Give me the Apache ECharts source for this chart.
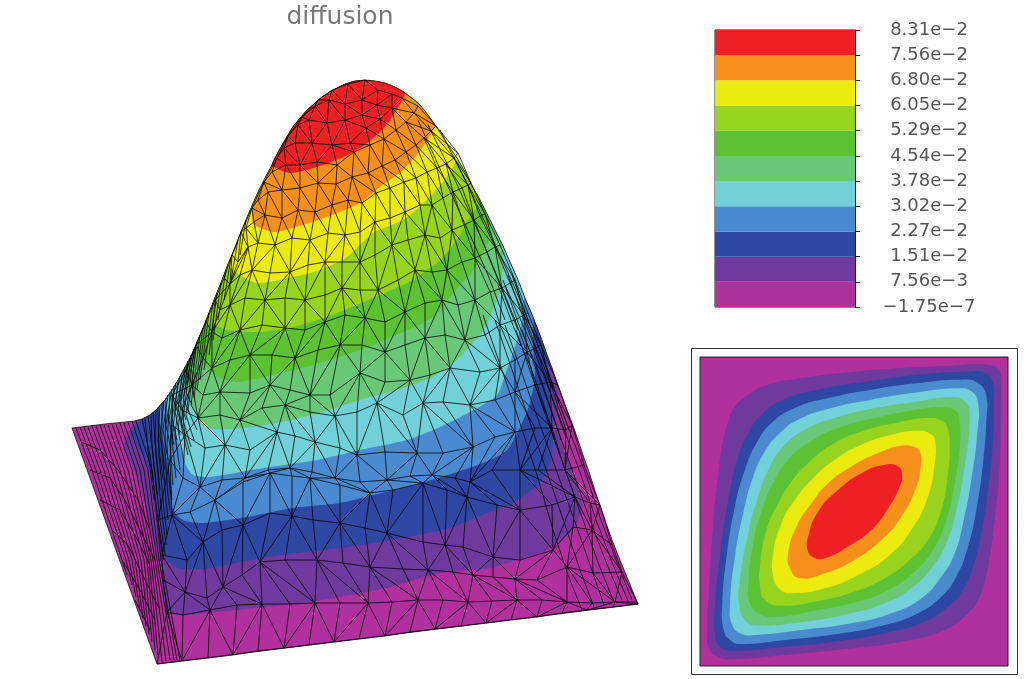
<!DOCTYPE html>
<html><head><meta charset="utf-8">
<style>html,body{margin:0;padding:0;background:#fff}#c{width:1024px;height:679px}</style>
<script src="https://cdn.jsdelivr.net/npm/echarts@6/dist/echarts.min.js"></script>
</head><body><div id="c"></div>
<script>
const titleText = 'diffusion';
// bottom to top
const tickLabels = ['\u22121.75e\u22127','7.56e\u22123','1.51e\u22122','2.27e\u22122','3.02e\u22122','3.78e\u22122','4.54e\u22122','5.29e\u22122','6.05e\u22122','6.80e\u22122','7.56e\u22122','8.31e\u22122'];
const bandColors = ['#b0309e','#6f399e','#2e47a3','#4a8bcf','#72d0d8','#69c878','#5cc133','#97d31f','#ebeb10','#f6901a','#ee2024'];
const bandStep = [1,1,1,1,1,1,1,1,1,1,1];

// inset contour plan, outermost level first
const insetFull = [45,52, 970,52, 970,978, 45,978];
const insetLevels = [
 [945,95,910,75,800,78,650,85,500,97,350,115,250,135,190,165,150,200,130,245,115,300,100,400,85,550,72,750,67,870,72,925,100,950,140,958,300,945,500,925,650,905,780,870,850,820,885,770,910,680,930,540,945,380,950,220,950,130],
 [925,130,900,100,850,96,700,105,550,125,400,150,300,178,230,225,190,280,160,350,130,480,105,650,90,800,90,880,105,920,150,932,300,920,450,905,600,880,720,845,790,800,835,750,865,680,890,580,910,450,925,300,928,180],
 [905,170,880,130,830,120,700,130,560,150,430,175,330,205,260,250,215,310,180,390,150,500,125,650,112,790,115,865,135,900,170,912,300,900,450,883,600,855,700,820,770,770,815,710,850,620,875,510,895,370,905,240],
 [880,190,860,155,820,146,700,158,560,180,440,205,340,240,285,280,240,335,205,410,175,520,150,650,135,800,140,850,165,880,210,885,350,870,500,850,620,820,710,775,770,710,810,640,835,550,860,420,878,280],
 [855,225,840,185,800,172,700,185,570,205,450,235,360,270,295,320,255,380,220,470,190,580,165,720,162,790,180,840,220,857,340,848,490,822,600,790,680,745,740,685,785,610,815,510,840,380],
 [825,250,815,215,780,203,680,212,570,235,460,265,370,310,310,360,270,420,235,500,205,610,190,740,195,790,225,822,280,830,400,810,520,785,620,745,690,695,745,630,785,540,810,430,825,320],
 [790,270,775,245,730,235,640,248,530,275,440,315,370,370,320,425,280,490,245,570,225,680,225,740,240,780,290,797,400,783,510,755,600,715,670,665,730,600,770,510,790,400,795,320],
 [752,310,740,285,700,273,620,285,530,315,450,360,385,415,330,480,290,550,265,640,265,710,285,748,320,760,420,745,520,705,610,650,680,570,730,470,750,370],
 [708,345,695,325,650,318,580,340,500,380,430,430,380,490,335,560,310,640,315,685,345,715,420,700,510,660,590,600,650,530,695,440,708,380],
 [652,405,640,380,600,375,530,400,460,450,400,515,370,590,368,630,385,652,420,655,490,620,560,570,610,505,645,440]
];

// surface outline in projected coordinates
const surfaceOutline = [72,428,105,424,135,421,142,419,150,415,158,408,165,400,172,390,178,380,184,369,190,358,195,347,200,335,205,323,210,310,216,295,222,280,228,264,235,248,241,232,248,215,254,201,260,188,266,176,272,165,278,152,285,140,292,128,300,118,307,110,315,103,322,97,330,92,337,88,345,84,355,81,365,80,375,81,385,83,395,87,405,93,413,99,420,105,428,115,435,125,443,137,450,148,457,158,465,172,472,186,480,200,488,216,495,230,503,246,510,262,518,280,525,298,533,317,540,335,546,352,552,368,558,386,565,405,572,423,578,440,584,458,590,475,597,497,605,520,612,540,620,560,629,582,638,604,157,664];

// lower boundary of each level on the surface, left to right
const surfaceLevels = [
 [135,421,124,446,140,483,150,527,160,567,164,600,167,612,183,615,237,610,300,603,340,597,390,587,440,573,490,568,517,560,547,550,573,530,582,507,572,470,563,447,558,420,558,386],
 [142,419,132,433,150,470,160,520,163,553,177,568,210,568,260,558,340,548,373,543,407,537,450,528,487,513,513,503,527,493,540,483,550,463,553,443,552,430,549,390,546,352],
 [158,408,165,450,172,490,172,508,183,520,203,523,247,517,293,508,340,503,373,495,407,487,457,472,483,463,507,450,520,427,530,403,535,375,533,345,533,317],
 [165,400,175,430,185,463,193,475,210,477,263,468,317,460,360,450,407,440,440,427,470,412,497,395,505,375,513,353,521,325,524,300,525,298],
 [184,369,190,400,198,420,207,428,233,429,277,423,320,413,360,400,403,388,433,377,460,357,483,330,497,300,503,273,503,246],
 [195,347,205,365,220,378,237,382,273,375,320,363,373,345,433,317,453,293,477,265,490,235,488,216],
 [205,323,217,326,227,330,260,332,293,327,327,317,373,298,407,283,437,263,457,240,468,220,480,200],
 [228,264,237,273,257,283,293,277,320,270,347,257,373,233,403,220,427,200,447,177,457,158],
 [254,201,253,223,273,232,293,228,327,217,360,203,380,187,403,170,423,147,435,125],
 [272,165,290,173,317,167,343,157,360,148,377,135,390,120,405,93]
];

// mesh node rows, front edge first
const meshRows = [
 [157,664,182,661,208,658,233,655,258,651,284,648,309,645,334,642,359,639,385,636,410,632,435,629,461,626,486,623,511,620,537,617,562,613,587,610,613,607,638,604],
 [167,612,183,615,210,610,237,605,262,604,290,604,315,603,340,603,368,603,392,602,418,600,443,600,468,602,492,601,517,600,542,600,567,602,592,603,615,602,637,602],
 [163,580,185,592,207,598,223,587,242,575,260,562,285,560,317,560,343,563,370,567,403,569,428,570,453,572,473,575,493,577,515,579,537,580,567,567,593,573,622,572],
 [162,555,187,560,203,542,222,530,243,525,270,513,292,516,313,520,340,523,365,528,387,533,423,542,445,545,463,547,493,557,520,560,553,550,573,527,592,530,612,545],
 [158,520,172,515,190,512,215,500,243,482,270,473,292,476,310,478,340,485,370,493,393,490,423,483,447,490,467,497,497,505,520,510,552,505,575,497,590,503,600,505],
 [170,460,183,478,200,487,222,480,245,478,268,470,290,468,312,472,335,478,360,482,387,480,410,476,432,475,455,478,470,482,492,470,520,470,538,470,565,470,584,465],
 [172,425,185,435,205,448,225,445,250,450,277,432,295,436,315,442,340,448,357,455,385,452,417,453,443,453,473,447,495,437,515,432,535,428,552,428,566,430,572,425],
 [172,395,182,410,198,418,220,415,240,420,262,408,285,405,310,412,335,416,357,412,377,403,403,415,423,403,443,402,470,405,495,400,515,392,535,385,550,382,558,385],
 [186,370,192,385,203,395,220,392,250,393,270,385,290,390,310,395,330,395,360,373,385,382,410,380,430,375,450,368,480,372,500,368,515,360,527,352,536,348,541,345],
 [196,345,203,358,212,368,230,360,250,355,272,355,295,358,318,350,340,345,362,345,385,352,405,345,425,338,445,335,465,340,485,335,500,325,515,320,524,315,528,313],
 [206,322,212,332,222,338,240,330,262,325,285,328,305,330,325,322,345,315,365,318,385,322,405,312,425,303,442,300,458,305,475,300,490,292,502,288,510,283,515,280],
 [215,300,220,310,230,305,245,298,265,300,285,298,305,300,325,295,342,288,360,290,378,290,398,280,415,270,432,272,447,270,462,262,475,258,487,252,495,247,500,245],
 [224,278,230,284,240,275,252,270,270,273,290,272,308,265,325,262,342,262,360,262,375,255,392,245,408,240,425,235,440,238,452,230,464,225,474,220,480,216,485,214],
 [232,255,238,262,248,247,258,243,275,245,292,238,310,240,328,233,345,235,360,232,375,222,390,218,405,212,420,205,432,205,443,198,453,192,462,188,468,185,471,183],
 [241,232,246,228,254,222,265,215,282,218,298,210,315,212,332,205,348,200,362,203,376,193,390,188,404,182,416,178,427,172,437,168,446,164,454,158,458,153],
 [252,208,258,200,268,192,282,190,300,188,318,183,336,184,352,177,368,173,382,166,395,160,406,152,416,145,424,138,431,131,436,126],
 [264,182,272,172,286,165,300,165,317,162,337,165,354,152,370,145,384,139,396,130,406,122,414,113,418,106],
 [277,158,284,148,295,143,312,143,332,145,350,143,366,128,380,119,392,108,402,98],
 [288,136,298,125,309,120,327,123,345,120,362,115,377,105,392,94],
 [302,117,315,106,329,100,345,104,362,100,378,90],
 [318,100,332,90,348,84,365,80]
];

// closely packed lines down the left flank and across the left flat
const flankLines = [
 [76,428,92,470,122,560,127,575],[80,427,96,470,126,560,132,585],[84,427,100,470,129,560,136,597],[88,427,104,470,132,560,140,610],
 [92,426,108,470,135,560,143,618],[96,426,112,470,138,560,146,626],[100,425,116,470,141,560,149,634],[104,425,120,470,144,560,152,642],
 [108,425,124,470,147,560,155,650],[112,424,128,470,149,560,158,655],[116,424,132,470,151,560,162,662],[120,423,136,470,153,560,166,661],
 [124,423,140,470,155,560,170,660],[128,422,144,470,157,560,174,660],[132,421,148,470,159,560,177,660],[136,421,152,470,161,560,180,660],
 [142,419,150,455,158,520,164,560],[148,416,153,455,160,520,165,555],[153,412,156,455,162,515,166,545],[158,407,159,455,164,510,167,535],
 [162,403,162,450,166,500,168,520],[166,398,165,450,168,495,170,510],[170,392,167,445,170,490,172,500],[174,386,170,445,173,485],
 [178,380,172,440,176,478],[182,373,175,435,180,470],[185,367,178,430,184,462],[188,361,181,425,188,455],[191,355,183,420,191,447],
 [194,349,186,415,194,440],[197,342,188,410,197,430],[200,335,191,405,200,420],[203,328,194,398],[206,320,197,390],[209,313,200,380],
 [213,303,204,370],[217,293,209,355],[221,283,213,340],[226,270,218,320],[231,258,224,300],[238,240,231,280],[246,220,240,255],
 [145,418,148,450,154,500],[151,414,152,445,157,495],[156,410,155,440,160,490],[160,405,158,440,163,480],[164,401,160,435,165,470],
 [168,395,163,430,168,460],[172,389,166,425,171,450],[176,383,169,420,174,445],[180,376,172,418,177,440],[184,370,175,412,180,435],
 [187,364,178,408,183,428],[190,358,180,402,186,420],[193,352,183,398,189,412],[196,345,186,392,192,405],
 [81,442,100,450,118,470,138,500,150,530],[90,470,110,478,125,500,140,530,155,560],[100,500,120,510,135,535,150,565],
 [112,530,128,545,145,580,160,610],[122,560,140,590,155,620],[135,600,150,630]
];
// closely packed lines down the right flank
const rightLines = [
 [440,130,470,190,500,255,520,300,540,350,560,405,586,475,601,520,616,560,632,600],
 [505,285,534,350,555,405,581,475,596,520,612,562,628,601],
 [522,330,549,405,574,475,590,520,606,562,622,600],
 [516,330,542,405,567,475,583,520,599,565,614,602],
 [505,325,533,405,558,475,575,522,590,565,604,605],
 [495,320,524,405,548,475,565,525,580,570,594,607],
 [483,315,514,405,537,475,553,530,568,575,582,610],
 [428,125,455,180,482,240,500,285,518,330],
 [418,120,445,180,470,235,488,275,505,320],
 [512,275,528,320,544,360,556,395,569,430],
 [508,275,524,320,540,360,552,398,565,435],
 [503,280,519,325,536,365,548,400,561,440],
 [498,285,514,328,531,368,544,405,556,445]
];

function pairs(a){const o=[];for(let i=0;i<a.length;i+=2)o.push([a[i],a[i+1]]);return o;}
const outlinePts = pairs(surfaceOutline);
function nearest(p){let b=0,d=1e9;outlinePts.forEach((q,i)=>{const e=(q[0]-p[0])**2+(q[1]-p[1])**2;if(e<d){d=e;b=i;}});return b;}
const surfacePolys = surfaceLevels.map(a=>{
  const low=pairs(a), i0=nearest(low[0]), i1=nearest(low[low.length-1]);
  return outlinePts.slice(i0,i1+1).concat(low.slice(1,-1).reverse());
});
function meshSegments(){
  const segs=[], rows=meshRows.map(pairs);
  rows.forEach(r=>segs.push(r));
  const d2=(a,b)=>(a[0]-b[0])**2+(a[1]-b[1])**2;
  for(let k=0;k+1<rows.length;k++){
    const a=rows[k],b=rows[k+1];
    if(a.length===b.length){
      // columns run through nodes of the same index, with one diagonal per cell
      for(let j=0;j<a.length;j++){
        segs.push([a[j],b[j]]);
        if(j+1<a.length) segs.push((j+k)%2?[a[j],b[j+1]]:[a[j+1],b[j]]);
      }
    }else{
      let i=0,j=0;segs.push([a[0],b[0]]);
      while(i<a.length-1||j<b.length-1){
        if(i===a.length-1)j++;else if(j===b.length-1)i++;
        else if(d2(a[i+1],b[j])<d2(a[i],b[j+1]))i++;else j++;
        segs.push([a[i],b[j]]);
      }
    }
  }
  flankLines.concat(rightLines).forEach(l=>segs.push(pairs(l)));
  return segs;
}
const meshSegs = meshSegments();

const polySeries=(name,xi,polys,cols,smooth)=>({
  type:'custom',name,xAxisIndex:xi,yAxisIndex:xi,silent:true,animation:false,clip:false,z:2,
  data:polys.map(p=>p[0]),
  renderItem:(params,api)=>({
    type:'polygon',
    shape:{points:polys[params.dataIndex].map(p=>api.coord(p)),smooth:smooth[params.dataIndex]},
    style:{fill:cols[params.dataIndex],stroke:null}
  })
});
const lineSeries=(name,xi,segs,color,width,z)=>({
  type:'custom',name,xAxisIndex:xi,yAxisIndex:xi,silent:true,animation:false,clip:false,z,
  data:[segs[0][0]],
  renderItem:(params,api)=>({
    type:'group',
    children:segs.map(s=>({type:'polyline',shape:{points:s.map(p=>api.coord(p))},style:{stroke:color,lineWidth:width,fill:null}}))
  })
});

const surfaceAll=[outlinePts].concat(surfacePolys);
const insetAll=[pairs(insetFull)].concat(insetLevels.map(pairs));

const hidden=(g,min,max,inv)=>({type:'value',gridIndex:g,min,max,inverse:!!inv,show:false,splitLine:{show:false}});
const option={
  animation:false,backgroundColor:'#fff',
  title:{text:titleText,left:335,top:0,textAlign:'center',textStyle:{fontFamily:'DejaVu Sans',fontSize:25,fontWeight:'normal',color:'#777'}},
  grid:[
    {left:0,top:0,width:1024,height:679},
    {left:700,top:357,width:308,height:309,show:true,borderColor:'#222',borderWidth:1,z:5,backgroundColor:'transparent'},
    {left:715,top:30,width:140,height:277,show:true,borderColor:'#222',borderWidth:1,backgroundColor:'transparent'}
  ],
  xAxis:[hidden(0,0,1024),hidden(1,45,970),{type:'category',gridIndex:2,data:['levels'],show:false}],
  yAxis:[hidden(0,0,679,true),hidden(1,52,978,true),{
    type:'value',gridIndex:2,min:0,max:11,interval:1,position:'right',splitLine:{show:false},
    axisLine:{show:true,lineStyle:{color:'#222'}},
    axisTick:{show:true,length:5,lineStyle:{color:'#222'}},
    axisLabel:{margin:74,align:'center',padding:[2,0,0,0],fontFamily:'DejaVu Sans',fontSize:18,color:'#555',showMinLabel:true,showMaxLabel:true,formatter:v=>tickLabels[Math.round(v)]}
  }],
  graphic:[{type:'rect',shape:{x:691.5,y:348.5,width:326,height:326},style:{fill:'none',stroke:'#333',lineWidth:1},silent:true,z:1}],
  series:[
    polySeries('surface',0,surfaceAll,bandColors,surfaceAll.map((p,i)=>i?0.25:0)),
    lineSeries('mesh',0,meshSegs,'rgba(0,0,0,0.85)',0.9,3),
    lineSeries('outline',0,[outlinePts.concat([outlinePts[0]])],'rgba(0,0,0,0.8)',0.9,4),
    polySeries('plan',1,insetAll,bandColors,insetAll.map((p,i)=>i?0.5:0))
  ].concat(bandColors.map((c,i)=>({type:'bar',name:'band'+i,xAxisIndex:2,yAxisIndex:2,stack:'levels',barWidth:'100%',silent:true,animation:false,itemStyle:{color:c},data:[bandStep[i]]})))
};
echarts.init(document.getElementById('c'),null,{renderer:'canvas'}).setOption(option);
</script></body></html>
